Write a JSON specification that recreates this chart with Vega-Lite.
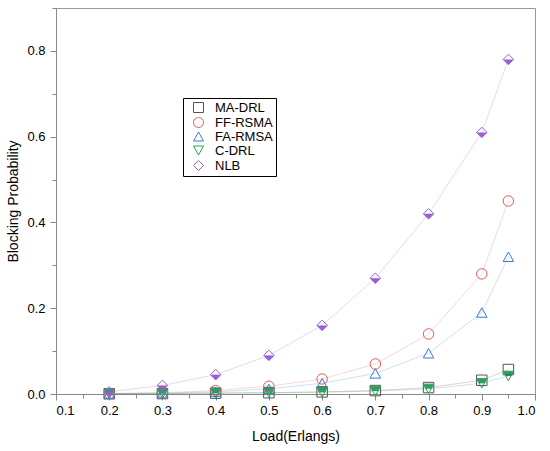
{
  "$schema": "https://vega.github.io/schema/vega-lite/v6.json",
  "description": "blocking probability vs load",
  "autosize": {"type": "none"},
  "padding": {"left": 56, "top": 8, "right": 15, "bottom": 57},
  "width": 479,
  "height": 386,
  "background": "white",
  "config": {
    "view": {"stroke": "#999", "strokeWidth": 1},
    "axis": {
      "grid": false,
      "domainColor": "#888",
      "tickColor": "#888",
      "labelFont": "Liberation Sans",
      "labelFontSize": 13,
      "labelColor": "black",
      "titleFont": "Liberation Sans",
      "titleFontSize": 14,
      "titleFontWeight": "normal",
      "titleColor": "black"
    },
    "legend": {
      "labelFont": "Liberation Sans",
      "labelFontSize": 13,
      "labelColor": "black",
      "orient": "none",
      "legendX": 127,
      "legendY": 90,
      "strokeColor": "black",
      "fillColor": "white",
      "padding": 3,
      "rowPadding": 0,
      "symbolSize": 100,
      "symbolStrokeWidth": 1,
      "symbolOpacity": 1,
      "symbolOffset": 6,
      "labelOffset": 10
    }
  },
  "data": {
    "values": [
      {"load": 0.2, "series": "MA-DRL", "p": 0.0005},
      {"load": 0.3, "series": "MA-DRL", "p": 0.001},
      {"load": 0.4, "series": "MA-DRL", "p": 0.002},
      {"load": 0.5, "series": "MA-DRL", "p": 0.003},
      {"load": 0.6, "series": "MA-DRL", "p": 0.005},
      {"load": 0.7, "series": "MA-DRL", "p": 0.008},
      {"load": 0.8, "series": "MA-DRL", "p": 0.015},
      {"load": 0.9, "series": "MA-DRL", "p": 0.032},
      {"load": 0.95, "series": "MA-DRL", "p": 0.057},
      {"load": 0.2, "series": "FF-RSMA", "p": 0.001},
      {"load": 0.3, "series": "FF-RSMA", "p": 0.003},
      {"load": 0.4, "series": "FF-RSMA", "p": 0.008},
      {"load": 0.5, "series": "FF-RSMA", "p": 0.018},
      {"load": 0.6, "series": "FF-RSMA", "p": 0.035},
      {"load": 0.7, "series": "FF-RSMA", "p": 0.07},
      {"load": 0.8, "series": "FF-RSMA", "p": 0.14},
      {"load": 0.9, "series": "FF-RSMA", "p": 0.28},
      {"load": 0.95, "series": "FF-RSMA", "p": 0.45},
      {"load": 0.2, "series": "FA-RMSA", "p": 0.001},
      {"load": 0.3, "series": "FA-RMSA", "p": 0.002},
      {"load": 0.4, "series": "FA-RMSA", "p": 0.005},
      {"load": 0.5, "series": "FA-RMSA", "p": 0.012},
      {"load": 0.6, "series": "FA-RMSA", "p": 0.025},
      {"load": 0.7, "series": "FA-RMSA", "p": 0.048},
      {"load": 0.8, "series": "FA-RMSA", "p": 0.095},
      {"load": 0.9, "series": "FA-RMSA", "p": 0.19},
      {"load": 0.95, "series": "FA-RMSA", "p": 0.32},
      {"load": 0.2, "series": "C-DRL", "p": 0.0003},
      {"load": 0.3, "series": "C-DRL", "p": 0.001},
      {"load": 0.4, "series": "C-DRL", "p": 0.002},
      {"load": 0.5, "series": "C-DRL", "p": 0.003},
      {"load": 0.6, "series": "C-DRL", "p": 0.004},
      {"load": 0.7, "series": "C-DRL", "p": 0.007},
      {"load": 0.8, "series": "C-DRL", "p": 0.012},
      {"load": 0.9, "series": "C-DRL", "p": 0.025},
      {"load": 0.95, "series": "C-DRL", "p": 0.042},
      {"load": 0.2, "series": "NLB", "p": 0.005},
      {"load": 0.3, "series": "NLB", "p": 0.02},
      {"load": 0.4, "series": "NLB", "p": 0.045},
      {"load": 0.5, "series": "NLB", "p": 0.09},
      {"load": 0.6, "series": "NLB", "p": 0.16},
      {"load": 0.7, "series": "NLB", "p": 0.27},
      {"load": 0.8, "series": "NLB", "p": 0.42},
      {"load": 0.9, "series": "NLB", "p": 0.61},
      {"load": 0.95, "series": "NLB", "p": 0.78}
    ]
  },
  "encoding": {
    "x": {
      "field": "load",
      "type": "quantitative",
      "scale": {"domain": [0.1, 1.0], "nice": false},
      "axis": {
        "title": "Load(Erlangs)",
        "values": [0.1, 0.15, 0.2, 0.25, 0.3, 0.35, 0.4, 0.45, 0.5, 0.55, 0.6, 0.65, 0.7, 0.75, 0.8, 0.85, 0.9, 0.95, 1.0],
        "labelExpr": "round(datum.value * 100) % 10 == 0 ? format(datum.value, '.1f') : ''",
        "tickSize": {"condition": {"test": "round(datum.value * 100) % 10 == 0", "value": 6}, "value": 4},
        "labelPadding": 4,
        "titlePadding": 12
      }
    },
    "y": {
      "field": "p",
      "type": "quantitative",
      "scale": {"domain": [0, 0.9], "nice": false},
      "axis": {
        "title": "Blocking Probability",
        "values": [0, 0.1, 0.2, 0.3, 0.4, 0.5, 0.6, 0.7, 0.8, 0.9],
        "labelExpr": "round(datum.value * 10) % 2 == 0 ? format(datum.value, '.1f') : ''",
        "tickSize": {"condition": {"test": "round(datum.value * 10) % 2 == 0", "value": 6}, "value": 4},
        "labelPadding": 5,
        "titlePadding": 6
      }
    },
    "color": {
      "field": "series",
      "type": "nominal",
      "scale": {
        "domain": ["MA-DRL", "FF-RSMA", "FA-RMSA", "C-DRL", "NLB"],
        "range": ["#555555", "#e8595a", "#3a78d8", "#2ca05a", "#9a5ed8"]
      },
      "legend": {
        "title": null,
        "encode": {
          "symbols": {
            "update": {
              "fillOpacity": {"value": 0},
              "opacity": {"value": 1},
              "strokeOpacity": {"value": 1},
              "strokeWidth": {"value": 1}
            }
          }
        }
      }
    }
  },
  "layer": [
    {
      "mark": {"type": "line", "strokeWidth": 0.8, "opacity": 0.3}
    },
    {
      "transform": [{"filter": "datum.series == 'C-DRL'"}],
      "mark": {"type": "point", "filled": true, "opacity": 1, "size": 110, "shape": "M-1,-0.9L1,-0.9L0.5,0L-0.5,0Z"}
    },
    {
      "transform": [{"filter": "datum.series == 'NLB'"}],
      "mark": {"type": "point", "filled": true, "opacity": 1, "size": 110, "shape": "M-1,0L1,0L0,1Z"}
    },
    {
      "mark": {"type": "point", "filled": false, "opacity": 1, "size": 110, "strokeWidth": 1},
      "encoding": {
        "shape": {
          "field": "series",
          "type": "nominal",
          "scale": {
            "domain": ["MA-DRL", "FF-RSMA", "FA-RMSA", "C-DRL", "NLB"],
            "range": ["square", "circle", "M-1,0.9L0,-0.9L1,0.9Z", "M-1,-0.9L1,-0.9L0,0.9Z", "diamond"]
          },
          "legend": {
            "title": null,
            "encode": {
              "symbols": {
                "update": {
                  "fillOpacity": {"value": 0},
                  "opacity": {"value": 1},
                  "strokeOpacity": {"value": 1},
                  "strokeWidth": {"value": 1}
                }
              }
            }
          }
        }
      }
    }
  ]
}
